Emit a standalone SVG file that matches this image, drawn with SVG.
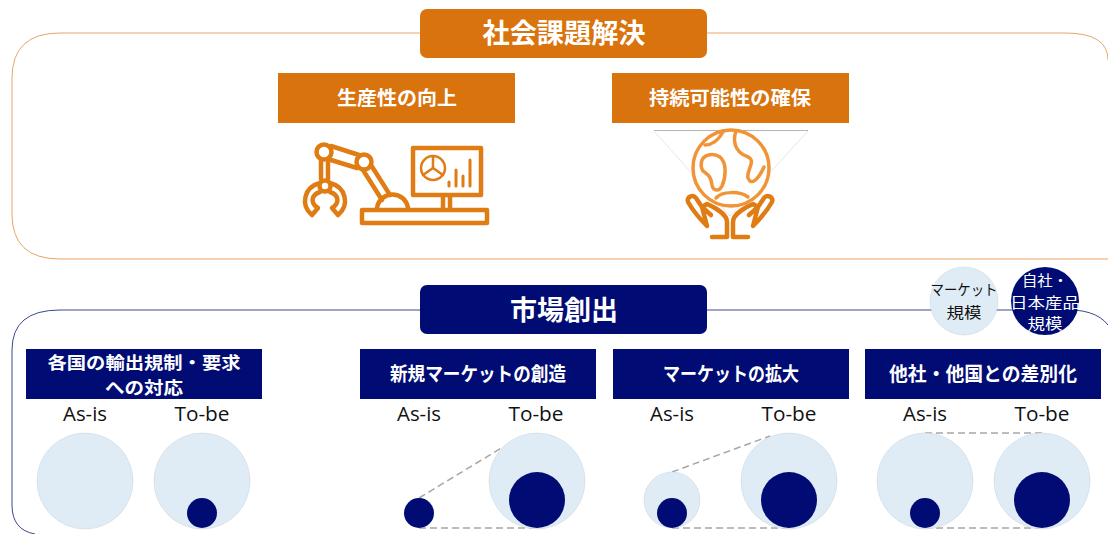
<svg xmlns="http://www.w3.org/2000/svg" width="1108" height="534" viewBox="0 0 1108 534">
<style>
text{font-family:"Noto Sans CJK JP","Noto Sans",sans-serif;text-anchor:middle}
.h{fill:#fff;font-weight:700;font-size:19.500px}
.h2{fill:#fff;font-weight:700;font-size:17px}
.t{fill:#fff;font-weight:700;font-size:27px}
.l{fill:#111;font-size:20px;font-family:"Open Sans","Noto Sans",sans-serif}
.c{font-size:14.500px}
.o{fill:#d9730d}.n{fill:#000c73}
.lb{fill:#dfecf6;stroke:#c9d2da;stroke-width:.5}
.i{fill:none;stroke:#e07c14;stroke-width:4.500;stroke-linejoin:round;stroke-linecap:round}
.g{fill:none;stroke:#f09437;stroke-width:3.500;stroke-linejoin:round;stroke-linecap:round}
.d{fill:none;stroke:#a6a6a6;stroke-width:1.500;stroke-dasharray:7 4}
</style>
<g id="connectors">
<path d="M420 33H60Q12 33 12 78V214Q12 259 60 259H1108M707 33H1065Q1108 33 1108 60" fill="none" stroke="#e8a566" stroke-width="1"/>
<path d="M420 310H60Q12 310 12 350V505Q12 530 35 534M707 310H1060Q1095 308 1108 325" fill="none" stroke="#3c4690" stroke-width="1"/>
<path class="d" d="M419 498L503 447M419 528H536"/>
<path class="d" d="M672 472L770 436M672 528H790"/>
<path class="d" d="M925 433H1042M925 528H1042"/>
</g>
<g id="title-social"><rect class="o" x="420" y="9" width="287" height="49" rx="7"/><text class="t" x="564" y="43" textLength="163" lengthAdjust="spacingAndGlyphs">社会課題解決</text></g>
<g id="productivity"><rect class="o" x="278" y="73" width="237" height="50"/><text class="h" x="397" y="105" textLength="120" lengthAdjust="spacingAndGlyphs">生産性の向上</text>
<g class="i">
<circle cx="324" cy="152" r="7.500"/><circle cx="364" cy="162" r="7.500"/>
<path d="M331 146L359 155M331 160L357 168M371 165L390 195M363 170L382 200"/>
<path d="M321 160V179M328 160V179"/>
<circle cx="325" cy="186" r="5.500"/>
<path d="M320 183C304 187 300 205 312 215L318 208C310 203 311 195 320 192M330 183C346 187 350 205 338 215L332 208C340 203 339 195 330 192"/>
<path d="M377 208C380 190 405 190 408 208"/>
<rect x="362" y="210" width="125" height="13"/>
<rect x="413" y="148" width="68" height="47"/>
<path d="M443 196V209M450 196V209"/>
<circle cx="433" cy="168" r="12" stroke-width="2.500"/><path d="M433 156V168L423 175M433 168L443 175" stroke-width="2.500"/>
<path d="M449 186V182M456 186V170M463 186V176M470 186V160" stroke-width="3"/>
</g></g>
<g id="sustainability"><rect class="o" x="612" y="73" width="237" height="50"/><text class="h" x="730" y="105" textLength="162" lengthAdjust="spacingAndGlyphs">持続可能性の確保</text>
<path d="M654 130.500H808" stroke="#b5b5b5" stroke-width="1" fill="none"/>
<path d="M654 131L730 216L808 131" stroke="#dcdcdc" stroke-width=".7" fill="none"/>
<g class="g"><circle cx="731" cy="168" r="38" fill="#fff"/>
<path d="M705 145C714 145 719 139 723 132M736 131C732 142 736 152 746 156C758 160 746 170 748 178C751 186 758 180 764 167"/>
<path d="M702 160C705 154 714 153 720 157C727 163 726 177 722 186C719 192 713 191 712 185C711 176 708 175 703 171C701 168 701 163 702 160Z"/>
<path d="M716 198C722 191 740 191 748 197"/></g>
<g class="i" stroke-width="3.500"><path d="M712 237H727V222C727 214 714 207 707 204L702 207L711 215M702 207L696 198C693 194 686 197 688 202C692 209 700 219 707 226Z"/>
<path d="M748 237H733V222C733 214 746 207 753 204L758 207L749 215M758 207L764 198C767 194 774 197 772 202C768 209 760 219 753 226Z"/></g></g>
<g id="title-market"><rect class="n" x="420" y="285" width="287" height="49" rx="7"/><text class="t" x="564" y="320" textLength="108" lengthAdjust="spacingAndGlyphs">市場創出</text></g>
<g id="legend-market"><circle class="lb" cx="964" cy="301" r="34"/><text class="c" x="964" y="295" fill="#111" textLength="67" lengthAdjust="spacingAndGlyphs">マーケット</text><text class="c" x="964" y="318" fill="#111" textLength="35" lengthAdjust="spacingAndGlyphs">規模</text></g>
<g id="legend-own"><circle class="n" cx="1045" cy="301" r="34"/><g fill="#fff"><text class="c" x="1045" y="286" textLength="46" lengthAdjust="spacingAndGlyphs">自社・</text><text class="c" x="1045" y="307.500" textLength="70" lengthAdjust="spacingAndGlyphs">日本産品</text><text class="c" x="1045" y="329" textLength="35" lengthAdjust="spacingAndGlyphs">規模</text></g></g>
<g id="col1"><rect class="n" x="26" y="349" width="236" height="50"/><text class="h2" x="144" y="369" textLength="193" lengthAdjust="spacingAndGlyphs">各国の輸出規制・要求</text><text class="h2" x="144" y="394" textLength="78" lengthAdjust="spacingAndGlyphs">への対応</text>
<text class="l" x="85" y="421" textLength="44" lengthAdjust="spacingAndGlyphs">As-is</text><text class="l" x="202" y="421" textLength="55" lengthAdjust="spacingAndGlyphs">To-be</text>
<circle class="lb" cx="85" cy="481" r="48"/><circle class="lb" cx="202" cy="481" r="48"/><circle class="n" cx="202" cy="513" r="15"/></g>
<g id="col2"><rect class="n" x="360" y="349" width="236" height="50"/><text class="h" x="478" y="381" textLength="176" lengthAdjust="spacingAndGlyphs">新規マーケットの創造</text>
<text class="l" x="419" y="421" textLength="44" lengthAdjust="spacingAndGlyphs">As-is</text><text class="l" x="536" y="421" textLength="55" lengthAdjust="spacingAndGlyphs">To-be</text>
<circle class="n" cx="419" cy="513" r="15"/><circle class="lb" cx="537" cy="481" r="48"/><circle class="n" cx="537" cy="500" r="28"/></g>
<g id="col3"><rect class="n" x="613" y="349" width="236" height="50"/><text class="h" x="731" y="381" textLength="136" lengthAdjust="spacingAndGlyphs">マーケットの拡大</text>
<text class="l" x="672" y="421" textLength="44" lengthAdjust="spacingAndGlyphs">As-is</text><text class="l" x="789" y="421" textLength="55" lengthAdjust="spacingAndGlyphs">To-be</text>
<circle class="lb" cx="672" cy="500" r="28"/><circle class="n" cx="672" cy="513" r="15"/><circle class="lb" cx="789" cy="481" r="48"/><circle class="n" cx="789" cy="500" r="28"/></g>
<g id="col4"><rect class="n" x="865" y="349" width="236" height="50"/><text class="h" x="983" y="381" textLength="188" lengthAdjust="spacingAndGlyphs">他社・他国との差別化</text>
<text class="l" x="925" y="421" textLength="44" lengthAdjust="spacingAndGlyphs">As-is</text><text class="l" x="1042" y="421" textLength="55" lengthAdjust="spacingAndGlyphs">To-be</text>
<circle class="lb" cx="925" cy="481" r="48"/><circle class="n" cx="925" cy="513" r="15"/><circle class="lb" cx="1042" cy="481" r="48"/><circle class="n" cx="1042" cy="500" r="28"/></g>
</svg>
